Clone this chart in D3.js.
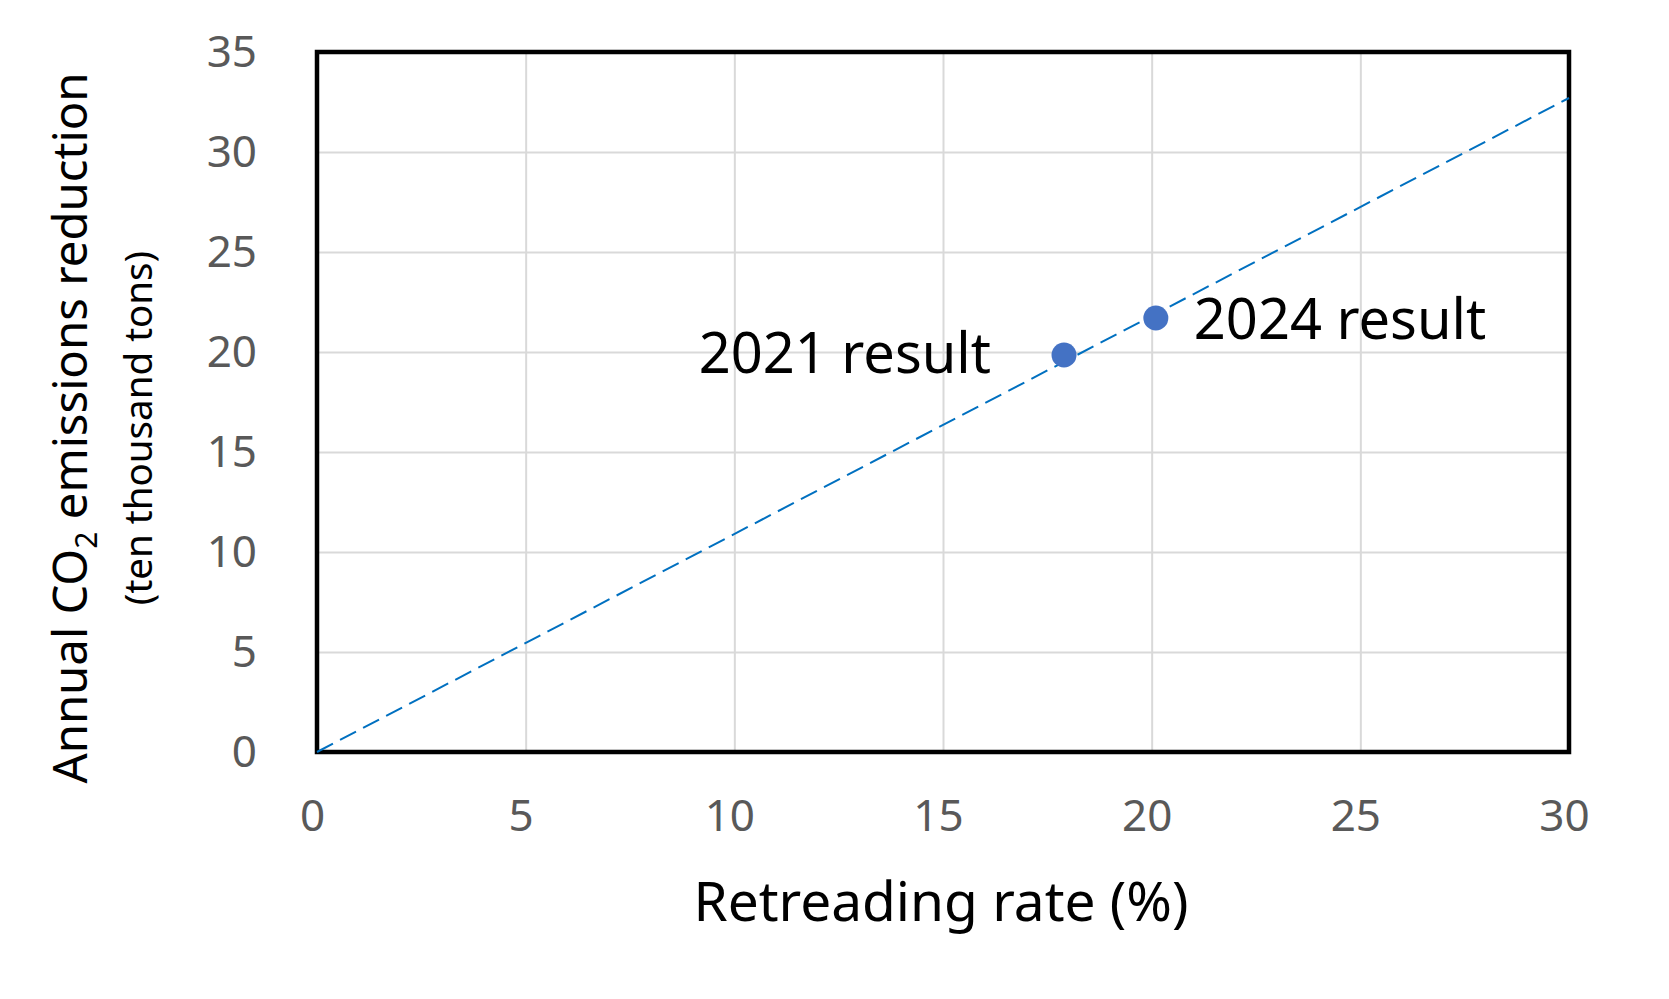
<!DOCTYPE html>
<html>
<head>
<meta charset="utf-8">
<script src="https://cdn.jsdelivr.net/npm/d3@7"></script>
<style>
  body { margin: 0; background: #fff; }
  svg { display: block; font-family: "Noto Sans", sans-serif; }
</style>
</head>
<body>
<div id="app"></div>
<script>
const labels = ["2021 result", "2024 result"];
const rates = [17.9, 20.1];
const reductions = [19.85, 21.7];

const trendRates = [0, 30];
const trendReductions = [0, 32.7];

const xTicks = [0, 5, 10, 15, 20, 25, 30];
const yTicks = [0, 5, 10, 15, 20, 25, 30, 35];

const chart = () => {
  const width = 1669;
  const height = 999;
  const left = 317;
  const right = 1569;
  const top = 52;
  const bottom = 752;

  const x = d3.scaleLinear().domain([0, 30]).range([left, right]);
  const y = d3.scaleLinear().domain([0, 35]).range([bottom, top]);

  const svg = d3.create("svg").attr("width", width).attr("height", height);

  // gridlines
  svg.append("g")
    .attr("transform", `translate(0,${bottom})`)
    .call(d3.axisBottom(x).tickValues(xTicks).tickSize(-(bottom - top)).tickFormat(""))
    .call((g) => g.select(".domain").remove())
    .call((g) => g.selectAll("line").attr("stroke", "#d9d9d9").attr("stroke-width", 2));

  svg.append("g")
    .attr("transform", `translate(${left},0)`)
    .call(d3.axisLeft(y).tickValues(yTicks).tickSize(-(right - left)).tickFormat(""))
    .call((g) => g.select(".domain").remove())
    .call((g) => g.selectAll("line").attr("stroke", "#d9d9d9").attr("stroke-width", 2));

  // tick labels
  svg.append("g")
    .attr("transform", `translate(0,${bottom})`)
    .call(d3.axisBottom(x).tickValues(xTicks).tickSize(0).tickPadding(47.5))
    .call((g) => g.select(".domain").remove())
    .call((g) => g.selectAll("text")
      .attr("dx", -5)
      .attr("fill", "#595959")
      .style("font-size", "44px")
      .style("font-family", '"Noto Sans", sans-serif'));

  svg.append("g")
    .attr("transform", `translate(${left},0)`)
    .call(d3.axisLeft(y).tickValues(yTicks).tickSize(0).tickPadding(60))
    .call((g) => g.select(".domain").remove())
    .call((g) => g.selectAll("text")
      .attr("fill", "#595959")
      .style("font-size", "44px")
      .style("font-family", '"Noto Sans", sans-serif'));

  // plot border
  svg.append("rect")
    .attr("x", left)
    .attr("y", top)
    .attr("width", right - left)
    .attr("height", bottom - top)
    .attr("fill", "none")
    .attr("stroke", "#000")
    .attr("stroke-width", 4.5);

  // dashed trend line
  const line = d3.line().x((d) => x(d[0])).y((d) => y(d[1]));
  svg.append("path")
    .datum(d3.zip(trendRates, trendReductions))
    .attr("d", line)
    .attr("fill", "none")
    .attr("stroke", "#0070c0")
    .attr("stroke-width", 2)
    .attr("stroke-dasharray", "18 8");

  const pts = labels.map((l, i) => ({ label: l, rate: rates[i], value: reductions[i] }));

  svg.selectAll("circle")
    .data(pts)
    .join("circle")
    .attr("cx", (d) => x(d.rate))
    .attr("cy", (d) => y(d.value))
    .attr("r", 12.5)
    .attr("fill", "#4472c4");

  // point labels: 2021 to the left, 2024 to the right
  svg.selectAll(".pt-label")
    .data(pts)
    .join("text")
    .attr("class", "pt-label")
    .attr("x", (d, i) => x(d.rate) + (i === 0 ? -73 : 38))
    .attr("y", (d, i) => y(d.value) + (i === 0 ? 18 : 20.5))
    .attr("text-anchor", (d, i) => (i === 0 ? "end" : "start"))
    .attr("font-size", 56)
    .attr("fill", "#000")
    .text((d) => d.label);

  // axis titles
  svg.append("text")
    .attr("x", 941)
    .attr("y", 921)
    .attr("text-anchor", "middle")
    .attr("font-size", 55)
    .attr("fill", "#000")
    .text("Retreading rate (%)");

  const yTitle = svg.append("text")
    .attr("transform", "translate(87,428) rotate(-90)")
    .attr("text-anchor", "middle")
    .attr("font-size", 47.3)
    .attr("fill", "#000");
  yTitle.append("tspan").text("Annual CO");
  yTitle.append("tspan").attr("font-size", 30).attr("dy", 10).text("2");
  yTitle.append("tspan").attr("dy", -10).text(" emissions reduction");

  svg.append("text")
    .attr("transform", "translate(152,428) rotate(-90)")
    .attr("text-anchor", "middle")
    .attr("font-size", 38.5)
    .attr("fill", "#000")
    .text("(ten thousand tons)");

  return svg.node();
};

d3.select("#app").append(chart);
</script>
</body>
</html>
